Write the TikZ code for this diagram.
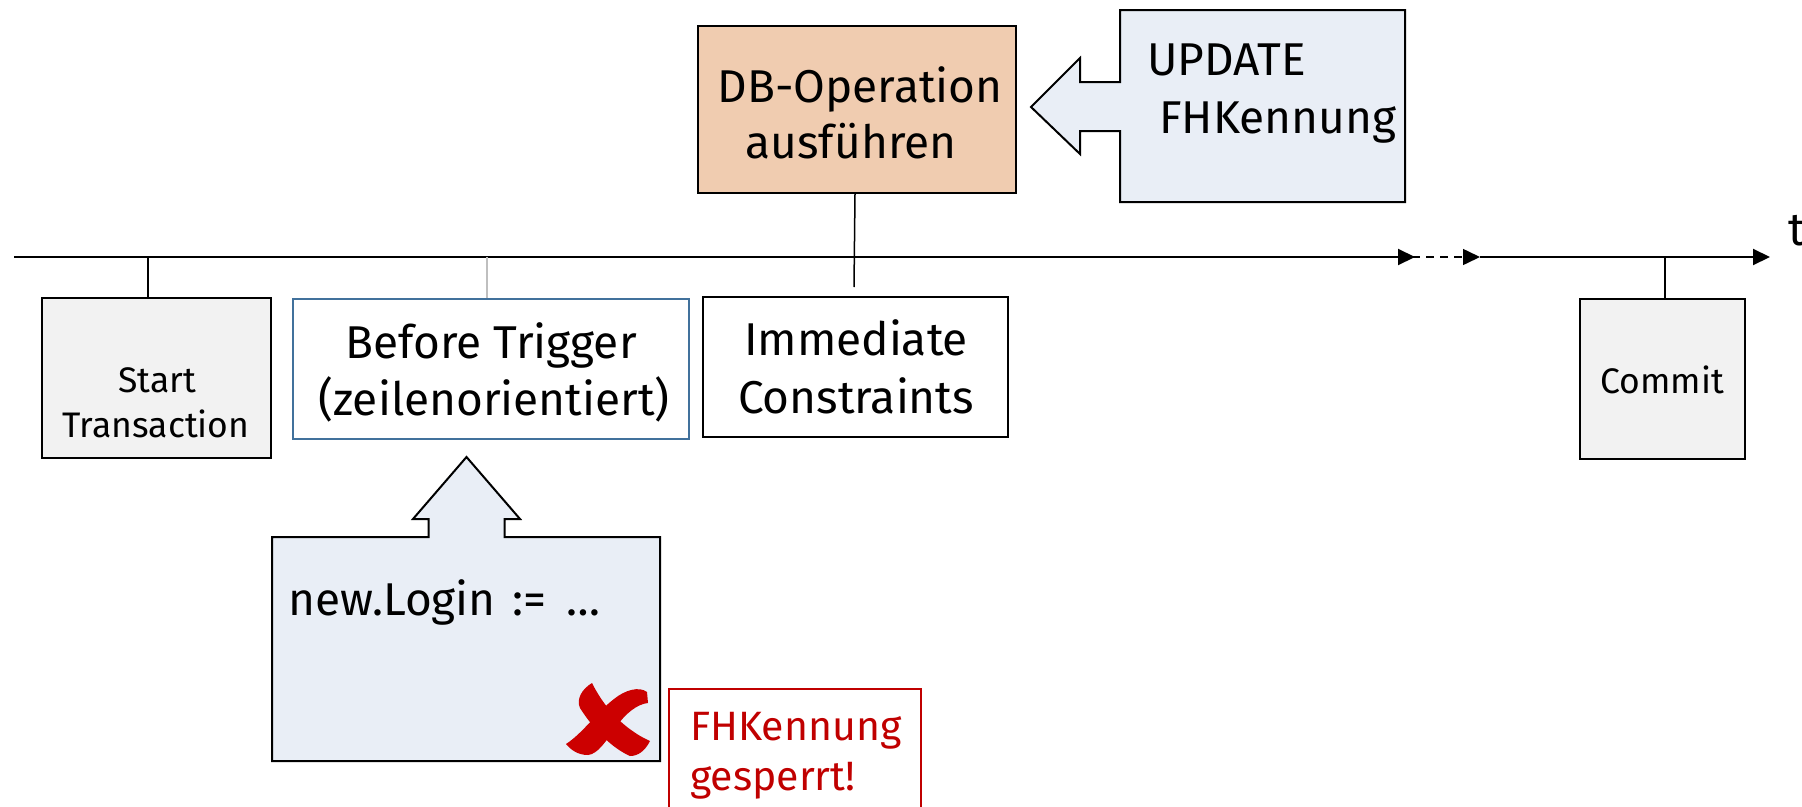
\documentclass[tikz,border=0pt]{standalone}
\usepackage{fontspec}
\setmainfont{Fira Sans}
\usetikzlibrary{arrows.meta,calc}
\definecolor{peach}{HTML}{F0CCB0}
\definecolor{callblue}{HTML}{E9EEF6}
\definecolor{boxgray}{HTML}{F2F2F2}
\definecolor{trigblue}{HTML}{41719C}
\definecolor{xred}{HTML}{CC0000}
\definecolor{tred}{HTML}{C00000}
\begin{document}
\begin{tikzpicture}[x=1pt,y=-1pt,
  box/.style={draw=black,line width=2pt,rectangle,inner sep=0pt},
  big/.style={font=\fontsize{46}{56}\selectfont,inner sep=0pt,anchor=base},
  small/.style={font=\fontsize{35.5}{42}\selectfont,inner sep=0pt,anchor=base},
  tipar/.style={-{Triangle[length=17pt,width=16pt]}},
  link/.style={line width=1.5pt}]
\useasboundingbox (0,0) rectangle (1802,806);

% boxes
\node[box,fill=boxgray,minimum width=229pt,minimum height=160pt] (start) at (156.5,378) {};
\node[box,draw=trigblue,line width=1.5pt,minimum width=396pt,minimum height=140pt] (trig) at (491,369) {};
\node[box,minimum width=305pt,minimum height=140pt] (imm) at (855.5,367) {};
\node[box,fill=peach,minimum width=318pt,minimum height=167pt] (db) at (857,109.5) {};
\node[box,fill=boxgray,minimum width=165pt,minimum height=160pt] (commit) at (1662.5,379) {};
\node[box,draw=tred,line width=1.5pt,minimum width=252pt,minimum height=150pt,anchor=north west] (fhbox) at (668,688) {};

% callouts
\draw[line width=2pt,fill=callblue,line join=miter]
  (1120,10) -- (1405,10) -- (1405,202) -- (1120,202) -- (1120,131) -- (1080,131)
  -- (1080,154) -- (1031,107) -- (1080,58) -- (1080,82) -- (1120,82) -- cycle;
\draw[line width=2pt,fill=callblue,line join=miter]
  (272,537) -- (428.5,537) -- (428.5,519) -- (413,519) -- (466.5,457) -- (520,519)
  -- (504.5,519) -- (504.5,537) -- (660,537) -- (660,761) -- (272,761) -- cycle;

% timeline
\coordinate (t0) at (14,257);
\coordinate (t1) at (1415,257);
\coordinate (d0) at (1384,257);
\coordinate (d1) at (1480,257);
\coordinate (t2) at (1770,257);
\draw[line width=2pt,tipar] (t0) -- (t1);
\draw[line width=1.5pt,dash pattern=on 8pt off 6pt,tipar] (d0) -- (d1);
\draw[line width=2pt,tipar] (d1) -- (t2);
\node[big,anchor=base west] (tlab) at (1788,245) {t};

% connectors
\coordinate (ts) at (148,257);
\draw[link] (ts) -- (ts |- start.north);
\coordinate (tb) at (487,257);
\draw[link,color=black!25] (tb) -- (tb |- trig.north);
\coordinate (dbend) at (854,287);
\draw[link] (db.south -| 855,0) -- (dbend);
\coordinate (tc) at (1665,257);
\draw[link] (tc) -- (tc |- commit.north);

% texts
\node[big] (db1) at (860,102) {DB-Operation};
\node[big] (db2) at (851,158) {ausführen};
\node[big,anchor=base west] (up1) at (1147,75) {UPDATE};
\node[big,anchor=base west] (up2) at (1159,133) {FHKennung};
\node[small] (st1) at (157,392) {Start};
\node[small] (st2) at (156,437) {Transaction};
\node[big] (tr1) at (491,358) {Before Trigger};
\node[big] (tr2) at (494,415) {(zeilenorientiert)};
\node[big] (im1) at (856,355) {Immediate};
\node[big] (im2) at (856,413) {Constraints};
\node[small] (cm) at (1662,393) {Commit};
\node[big,anchor=base west] (nl) at (288,615) {new.Login\hspace{5pt} :=\hspace{7pt} …};
\node[font=\fontsize{41}{50}\selectfont,inner sep=0pt,anchor=base west,text=tred] (fh1) at (690,740) {FHKennung};
\node[font=\fontsize{41}{50}\selectfont,inner sep=0pt,anchor=base west,text=tred] (fh2) at (690,790) {gesperrt!};

% red cross
\fill[xred] (592,683) .. controls (602,703) and (616,720) .. (634,732)
  .. controls (641,737) and (646,739) .. (650,741)
  .. controls (645,751) and (638,756) .. (630,756)
  .. controls (612,748) and (594,730) .. (580,708)
  .. controls (576,699) and (582,689) .. (592,683) -- cycle;
\fill[xred] (566,744) .. controls (583,733) and (597,712) .. (614,699)
  .. controls (625,690) and (639,686) .. (647,692)
  -- (648,703) .. controls (637,704) and (625,714) .. (616,727)
  .. controls (606,741) and (598,754) .. (588,755)
  .. controls (578,755) and (571,750) .. (566,744) -- cycle;
\end{tikzpicture}
\end{document}
